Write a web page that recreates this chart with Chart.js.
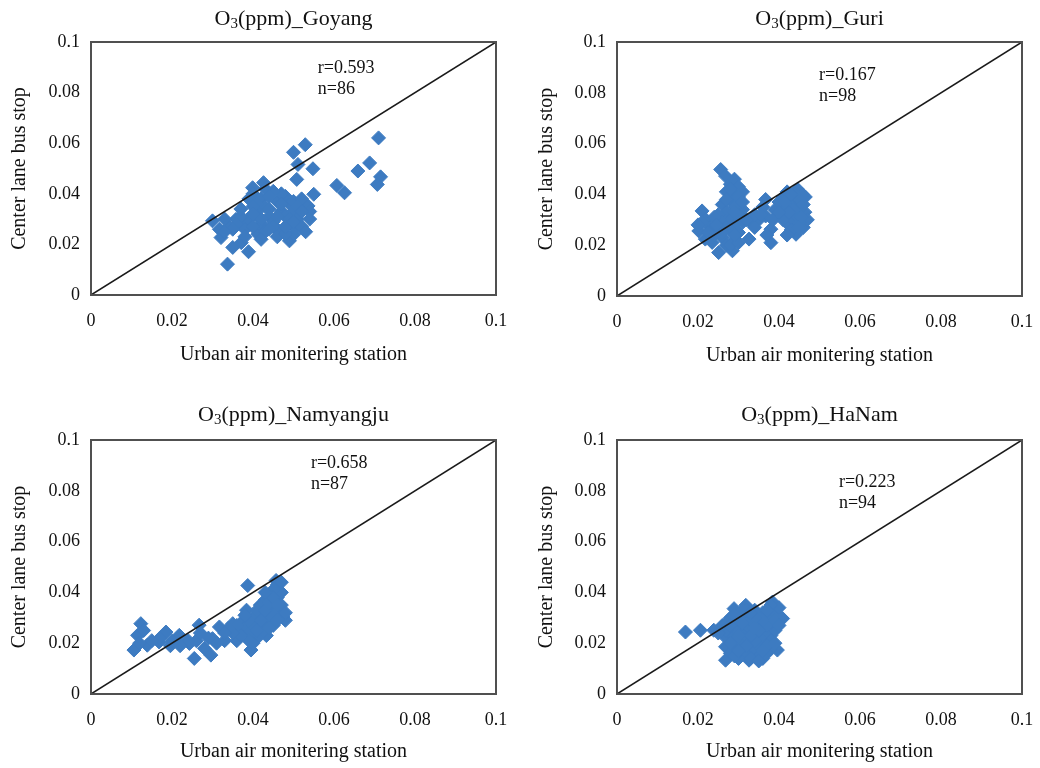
<!DOCTYPE html>
<html>
<head>
<meta charset="utf-8">
<script src="https://cdn.jsdelivr.net/npm/chart.js@4.4.1/dist/chart.umd.min.js"></script>
<style>
  body { margin: 0; background: #fff; }
  #wrap { position: relative; width: 1040px; height: 768px; }
  canvas { position: absolute; }
</style>
</head>
<body>
<div id="wrap">
  <canvas id="c1" width="520" height="384" style="left:0;top:0"></canvas>
  <canvas id="c2" width="520" height="384" style="left:520px;top:0"></canvas>
  <canvas id="c3" width="520" height="384" style="left:0;top:384px"></canvas>
  <canvas id="c4" width="520" height="384" style="left:520px;top:384px"></canvas>
</div>
<script>
// axis ticks and 1:1 line
const tickValues = [0, 0.02, 0.04, 0.06, 0.08, 0.1];
const lineX = [0, 0.1];
const lineY = [0, 0.1];

const stations = ['Goyang', 'Guri', 'Namyangju', 'HaNam'];
const rText = ['r=0.593', 'r=0.167', 'r=0.658', 'r=0.223'];
const nText = ['n=86', 'n=98', 'n=87', 'n=94'];
const annotX = [0.0560, 0.0499, 0.0543, 0.0548];
const annotY = [0.0897, 0.0870, 0.0909, 0.0835];

// Goyang
const goyangX = [
  0.0710, 0.0529, 0.0500, 0.0511, 0.0548, 0.0688, 0.0659, 0.0715, 0.0707, 0.0607,
  0.0626, 0.0508, 0.0550, 0.0399, 0.0426, 0.0536, 0.0540, 0.0300, 0.0317, 0.0321,
  0.0350, 0.0371, 0.0389, 0.0337, 0.0412, 0.0490, 0.0501, 0.0505, 0.0358, 0.0376,
  0.040, 0.042, 0.043, 0.041, 0.044, 0.046, 0.048, 0.049, 0.047, 0.045,
  0.042, 0.039, 0.037, 0.036, 0.034, 0.033, 0.038, 0.040, 0.043, 0.046,
  0.048, 0.050, 0.051, 0.052, 0.053, 0.049, 0.050, 0.047, 0.045, 0.044,
  0.041, 0.043, 0.039, 0.045, 0.041, 0.052, 0.054, 0.046, 0.048, 0.042,
  0.038, 0.040, 0.044, 0.047, 0.049, 0.051, 0.035, 0.033, 0.052, 0.048,
  0.044, 0.042, 0.046, 0.040, 0.037, 0.050
];
const goyangY = [
  0.0621, 0.0594, 0.0564, 0.0516, 0.0499, 0.0522, 0.0490, 0.0467, 0.0437, 0.0433,
  0.0404, 0.0457, 0.0398, 0.0424, 0.0444, 0.0352, 0.0330, 0.0293, 0.0260, 0.0227,
  0.0188, 0.0207, 0.0171, 0.0122, 0.0240, 0.0214, 0.0240, 0.0265, 0.0299, 0.0273,
  0.040, 0.038, 0.035, 0.033, 0.031, 0.037, 0.039, 0.036, 0.033, 0.029,
  0.028, 0.030, 0.031, 0.028, 0.027, 0.030, 0.026, 0.027, 0.025, 0.026,
  0.031, 0.033, 0.030, 0.027, 0.025, 0.028, 0.037, 0.040, 0.041, 0.034,
  0.036, 0.042, 0.038, 0.027, 0.031, 0.038, 0.030, 0.023, 0.024, 0.022,
  0.023, 0.035, 0.039, 0.036, 0.030, 0.035, 0.026, 0.025, 0.033, 0.027,
  0.026, 0.030, 0.031, 0.032, 0.034, 0.029
];

// Guri
const guriX = [
  0.0256, 0.0268, 0.0280, 0.0290, 0.0300, 0.0270, 0.0290, 0.0310, 0.0280, 0.0300,
  0.0260, 0.0290, 0.0310, 0.0270, 0.0250, 0.0300, 0.0280, 0.0260, 0.0290, 0.0270,
  0.0300, 0.0280, 0.0250, 0.0260, 0.0290, 0.0270, 0.0251, 0.0285, 0.0280, 0.0300,
  0.0310, 0.0300, 0.0280, 0.0290, 0.0270, 0.0310, 0.0260, 0.0290,
  0.0210, 0.0220, 0.0240, 0.0230, 0.0202, 0.0218, 0.0235, 0.0210, 0.0240, 0.0225,
  0.0200, 0.0245,
  0.0326, 0.0330, 0.0367, 0.0367, 0.0380, 0.0380, 0.0350, 0.0340, 0.0360, 0.0390,
  0.0370, 0.0340, 0.0320, 0.0355, 0.0385,
  0.0404, 0.0446, 0.0458, 0.0464, 0.0460, 0.0442, 0.0424, 0.0432, 0.0410, 0.0420,
  0.0440, 0.0450, 0.0430, 0.0410, 0.0470, 0.0450, 0.0430, 0.0420, 0.0400, 0.0450,
  0.0440, 0.0460, 0.0420, 0.0440, 0.0410, 0.0455, 0.0435, 0.0465, 0.0425, 0.0400,
  0.0448, 0.0415, 0.0430
];
const guriY = [
  0.0498, 0.0472, 0.0440, 0.0460, 0.0430, 0.0410, 0.0400, 0.0410, 0.0380, 0.0370,
  0.0360, 0.0350, 0.0340, 0.0330, 0.0320, 0.0320, 0.0300, 0.0290, 0.0280, 0.0270,
  0.0250, 0.0260, 0.0260, 0.0230, 0.0220, 0.0200, 0.0171, 0.0178, 0.0200, 0.0210,
  0.0290, 0.0390, 0.0420, 0.0330, 0.0380, 0.0370, 0.0250, 0.0240,
  0.0335, 0.0300, 0.0310, 0.0270, 0.0256, 0.0224, 0.0211, 0.0290, 0.0240, 0.0250,
  0.0280, 0.0280,
  0.0224, 0.0290, 0.0315, 0.0380, 0.0263, 0.0210, 0.0300, 0.0270, 0.0350, 0.0340,
  0.0240, 0.0320, 0.0300, 0.0320, 0.0300,
  0.0348, 0.0420, 0.0400, 0.0330, 0.0270, 0.0243, 0.0280, 0.0380, 0.0390, 0.0410,
  0.0360, 0.0340, 0.0310, 0.0320, 0.0300, 0.0290, 0.0260, 0.0240, 0.0370, 0.0380,
  0.0400, 0.0360, 0.0350, 0.0320, 0.0300, 0.0310, 0.0340, 0.0390, 0.0330, 0.0330,
  0.0270, 0.0370, 0.0400
];

// Namyangju
const namyangjuX = [
  0.0106, 0.0123, 0.0115, 0.0139, 0.0168, 0.0185, 0.0196, 0.0218, 0.0243, 0.0260,
  0.0255, 0.0267, 0.0296, 0.0300, 0.0317, 0.0350, 0.0360, 0.0387, 0.0384, 0.0395,
  0.0406, 0.0418, 0.0457, 0.0460, 0.0474, 0.0433,
  0.037, 0.038, 0.039, 0.036, 0.040, 0.041, 0.042, 0.043, 0.044, 0.045,
  0.046, 0.047, 0.046, 0.045, 0.044, 0.043, 0.042, 0.041, 0.044, 0.045,
  0.043, 0.042, 0.041, 0.040, 0.046, 0.047, 0.048, 0.045, 0.047, 0.043,
  0.044, 0.040, 0.039, 0.038, 0.042, 0.046, 0.044, 0.045, 0.043, 0.047,
  0.041, 0.039, 0.037, 0.036, 0.035, 0.034, 0.033, 0.031, 0.028, 0.024,
  0.020, 0.022, 0.017, 0.015, 0.013, 0.012, 0.027, 0.029, 0.033, 0.048,
  0.046
];
const namyangjuY = [
  0.0173, 0.0277, 0.0231, 0.0192, 0.0205, 0.0244, 0.0190, 0.0231, 0.0199, 0.0210,
  0.0140, 0.0271, 0.0153, 0.0218, 0.0264, 0.0277, 0.0210, 0.0427, 0.0330, 0.0173,
  0.0245, 0.0350, 0.0447, 0.0410, 0.0303, 0.0230,
  0.028, 0.026, 0.024, 0.025, 0.030, 0.028, 0.032, 0.030, 0.034, 0.036,
  0.038, 0.040, 0.043, 0.041, 0.039, 0.037, 0.035, 0.033, 0.029, 0.027,
  0.026, 0.024, 0.022, 0.020, 0.033, 0.031, 0.029, 0.031, 0.035, 0.033,
  0.036, 0.027, 0.029, 0.031, 0.029, 0.029, 0.026, 0.038, 0.040, 0.044,
  0.025, 0.021, 0.023, 0.027, 0.024, 0.026, 0.021, 0.020, 0.018, 0.021,
  0.021, 0.019, 0.022, 0.021, 0.025, 0.020, 0.024, 0.022, 0.024, 0.032,
  0.035
];

// HaNam
const hanamX = [
  0.0169, 0.0206, 0.0239, 0.0268, 0.0268, 0.0289, 0.0318, 0.0326, 0.0384, 0.0387,
  0.0409, 0.0396,
  0.028, 0.029, 0.030, 0.031, 0.032, 0.033, 0.034, 0.035, 0.036, 0.037,
  0.038, 0.039, 0.038, 0.037, 0.036, 0.035, 0.034, 0.033, 0.032, 0.031,
  0.030, 0.029, 0.028, 0.027, 0.028, 0.029, 0.030, 0.031, 0.032, 0.033,
  0.034, 0.035, 0.036, 0.037, 0.038, 0.037, 0.036, 0.034, 0.033, 0.032,
  0.031, 0.030, 0.029, 0.031, 0.032, 0.033, 0.034, 0.035, 0.036, 0.035,
  0.034, 0.033, 0.030, 0.029, 0.028, 0.027, 0.026, 0.025, 0.027, 0.039,
  0.040, 0.038, 0.037, 0.036, 0.039, 0.040, 0.038, 0.037, 0.039, 0.035,
  0.034, 0.031, 0.032, 0.033, 0.035, 0.030, 0.028, 0.029, 0.031, 0.033,
  0.036, 0.034
];
const hanamY = [
  0.0244, 0.0251, 0.0251, 0.0186, 0.0133, 0.0336, 0.0349, 0.0133, 0.0362, 0.0330,
  0.0297, 0.0173,
  0.030, 0.028, 0.026, 0.024, 0.022, 0.020, 0.018, 0.016, 0.019, 0.021,
  0.023, 0.025, 0.028, 0.030, 0.032, 0.030, 0.028, 0.026, 0.024, 0.022,
  0.020, 0.018, 0.016, 0.022, 0.024, 0.026, 0.029, 0.031, 0.033, 0.031,
  0.033, 0.027, 0.025, 0.027, 0.018, 0.016, 0.014, 0.015, 0.017, 0.015,
  0.017, 0.014, 0.015, 0.019, 0.027, 0.029, 0.024, 0.022, 0.021, 0.019,
  0.021, 0.023, 0.023, 0.021, 0.020, 0.025, 0.027, 0.024, 0.028, 0.032,
  0.034, 0.035, 0.033, 0.029, 0.029, 0.027, 0.021, 0.019, 0.020, 0.025,
  0.030, 0.028, 0.019, 0.014, 0.013, 0.017, 0.027, 0.031, 0.033, 0.032,
  0.017, 0.026
];

const SERIF = '"Liberation Serif", "Times New Roman", serif';
const TEXT = '#111';
const BLUE = '#3d7bc1';

// layout of each panel inside its 520x384 canvas
const panels = [
  { id: 'c1', xs: goyangX, ys: goyangY, pad: { left: 8, right: 24, top: 42, bottom: 17 }, yW: 83, xH: 72, titleBase: 25 },
  { id: 'c2', xs: guriX, ys: guriY, pad: { left: 15, right: 18, top: 42, bottom: 16 }, yW: 82, xH: 72, titleBase: 25 },
  { id: 'c3', xs: namyangjuX, ys: namyangjuY, pad: { left: 8, right: 24, top: 56, bottom: 4 }, yW: 83, xH: 70, titleBase: 37 },
  { id: 'c4', xs: hanamX, ys: hanamY, pad: { left: 15, right: 18, top: 56, bottom: 4 }, yW: 82, xH: 70, titleBase: 37 }
];

const framePlugin = {
  id: 'frame',
  afterDatasetsDraw(chart) {
    const a = chart.chartArea, ctx = chart.ctx;
    ctx.save();
    ctx.strokeStyle = '#505050';
    ctx.lineWidth = 2;
    ctx.strokeRect(a.left, a.top, a.right - a.left, a.bottom - a.top);
    ctx.restore();
  }
};

function makeChart(p, i) {
  const pts = p.xs.map((x, k) => ({ x: x, y: p.ys[k] }));
  const diag = lineX.map((x, k) => ({ x: x, y: lineY[k] }));

  // title with subscript 3
  const titlePlugin = {
    id: 'subTitle',
    afterDraw(chart) {
      const ctx = chart.ctx, a = chart.chartArea;
      const rest = '(ppm)_' + stations[i];
      ctx.save();
      ctx.fillStyle = TEXT;
      ctx.textBaseline = 'alphabetic';
      ctx.font = '22px ' + SERIF;
      const w1 = ctx.measureText('O').width, w3 = ctx.measureText(rest).width;
      ctx.font = '15px ' + SERIF;
      const w2 = ctx.measureText('3').width;
      let x = (a.left + a.right) / 2 - (w1 + w2 + w3) / 2;
      ctx.font = '22px ' + SERIF;
      ctx.fillText('O', x, p.titleBase);
      x += w1;
      ctx.font = '15px ' + SERIF;
      ctx.fillText('3', x, p.titleBase + 3);
      x += w2;
      ctx.font = '22px ' + SERIF;
      ctx.fillText(rest, x, p.titleBase);
      ctx.restore();
    }
  };

  const annotPlugin = {
    id: 'annot',
    afterDatasetsDraw(chart) {
      const ctx = chart.ctx;
      const px = chart.scales.x.getPixelForValue(annotX[i]);
      const py = chart.scales.y.getPixelForValue(annotY[i]);
      ctx.save();
      ctx.font = '18px ' + SERIF;
      ctx.fillStyle = TEXT;
      ctx.textBaseline = 'middle';
      ctx.fillText(rText[i], px, py);
      ctx.fillText(nText[i], px, py + 21);
      ctx.restore();
    }
  };

  const setTicks = s => { s.ticks = tickValues.map(v => ({ value: v })); };

  return new Chart(document.getElementById(p.id), {
    type: 'scatter',
    data: {
      datasets: [
        { data: diag, showLine: true, borderColor: '#1a1a1a', borderWidth: 1.5, pointRadius: 0, order: 0 },
        { data: pts, pointStyle: 'rectRot', pointRadius: 7, backgroundColor: BLUE, borderColor: BLUE, borderWidth: 1, order: 1 }
      ]
    },
    options: {
      responsive: false,
      animation: false,
      devicePixelRatio: 1,
      layout: { padding: p.pad },
      plugins: { legend: { display: false }, tooltip: { enabled: false }, title: { display: false } },
      scales: {
        x: {
          type: 'linear', min: 0, max: 0.1,
          afterBuildTicks: setTicks,
          afterFit: s => { s.height = p.xH; s.paddingLeft = 0; s.paddingRight = 0; },
          grid: { display: false, drawTicks: false },
          border: { display: false },
          ticks: { padding: 15, color: TEXT, font: { family: SERIF, size: 18 }, callback: v => String(v) },
          title: { display: true, text: 'Urban air monitering station', color: TEXT, padding: 0, font: { family: SERIF, size: 20 } }
        },
        y: {
          type: 'linear', min: 0, max: 0.1,
          afterBuildTicks: setTicks,
          afterFit: s => { s.width = p.yW; s.paddingTop = 0; s.paddingBottom = 0; },
          grid: { display: false, drawTicks: false },
          border: { display: false },
          ticks: { padding: 11, color: TEXT, font: { family: SERIF, size: 18 }, callback: v => String(v) },
          title: { display: true, text: 'Center lane bus stop', color: TEXT, padding: 0, font: { family: SERIF, size: 20 } }
        }
      }
    },
    plugins: [framePlugin, titlePlugin, annotPlugin]
  });
}

panels.forEach(makeChart);
</script>
</body>
</html>
